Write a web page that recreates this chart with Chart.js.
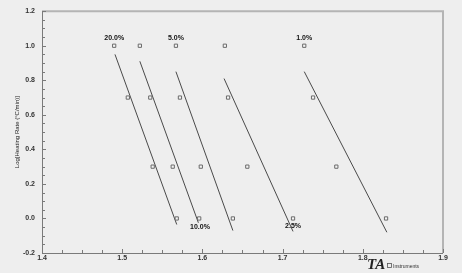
<!DOCTYPE html>
<html><head><meta charset="utf-8">
<script src="https://cdn.jsdelivr.net/npm/chart.js@4"></script>
<style>html,body{margin:0;padding:0;background:#eeeeee;}#c{display:block;}</style>
</head><body>
<canvas id="c" width="462" height="273"></canvas>
<script>
// Heating rate levels (log scale y values)
const yLevels = [1.0, 0.7, 0.3, 0.0];
// Conversion series: x values at each y level
const seriesNames = ['20.0%', '10.0%', '5.0%', '2.5%', '1.0%'];
const x20 = [1.490, 1.507, 1.538, 1.568];
const x10 = [1.522, 1.535, 1.563, 1.596];
const x5  = [1.567, 1.572, 1.598, 1.638];
const x25 = [1.628, 1.632, 1.656, 1.713];
const x1  = [1.727, 1.738, 1.767, 1.829];
const seriesX = [x20, x10, x5, x25, x1];
// Fitted lines: [xTop, yTop, xBottom, yBottom]
const fit20 = [1.491, 0.95, 1.568, -0.035];
const fit10 = [1.522, 0.91, 1.595, -0.025];
const fit5  = [1.567, 0.85, 1.638, -0.07];
const fit25 = [1.627, 0.81, 1.713, -0.075];
const fit1  = [1.727, 0.85, 1.830, -0.08];
const fits = [fit20, fit10, fit5, fit25, fit1];
// Series labels: text, x, y in data units
const labelText = ['20.0%', '10.0%', '5.0%', '2.5%', '1.0%'];
const labelX = [1.490, 1.597, 1.567, 1.713, 1.727];
const labelY = [1.045, -0.052, 1.045, -0.042, 1.045];
// Axis ticks
const xMin = 1.4, xMax = 1.9, xStep = 0.1, xMinor = 0.025;
const yMin = -0.2, yMax = 1.2, yStep = 0.2, yMinor = 0.05;
const yTitle = 'Log[Heating Rate (°C/min)]';

const datasets = [];
seriesX.forEach((xs, i) => {
  datasets.push({
    type: 'scatter', label: seriesNames[i],
    data: xs.map((x, j) => ({x: x, y: yLevels[j]})),
    pointStyle: 'rect', pointRadius: 2.3, pointBorderWidth: 1,
    pointBackgroundColor: '#f4f4f4', pointBorderColor: '#6a6a6a', showLine: false
  });
});
fits.forEach((f, i) => {
  datasets.push({
    type: 'line', label: 'fit ' + seriesNames[i],
    data: [{x: f[0], y: f[1]}, {x: f[2], y: f[3]}],
    borderColor: '#4a4a4a', borderWidth: 1, pointRadius: 0, fill: false, tension: 0
  });
});

const fmt = v => (Math.abs(v) < 1e-9 ? 0 : v).toFixed(1);

const decor = {
  id: 'decor',
  beforeDraw(chart) {
    const c = chart.ctx;
    c.save(); c.fillStyle = '#eeeeee'; c.fillRect(0, 0, chart.width, chart.height); c.restore();
  },
  afterDraw(chart) {
    const c = chart.ctx, a = chart.chartArea, xs = chart.scales.x, ys = chart.scales.y;
    c.save();
    c.strokeStyle = '#b4b4b4'; c.lineWidth = 2;
    c.beginPath(); c.moveTo(a.left, a.top); c.lineTo(a.right, a.top); c.lineTo(a.right, a.bottom); c.stroke();
    c.strokeStyle = '#7a7a7a'; c.lineWidth = 1;
    c.beginPath(); c.moveTo(a.left + 0.5, a.top); c.lineTo(a.left + 0.5, a.bottom + 0.5); c.lineTo(a.right, a.bottom + 0.5); c.stroke();
    c.beginPath();
    for (let v = xMin; v <= xMax + 1e-9; v += xMinor) {
      const p = Math.round(xs.getPixelForValue(v)) + 0.5;
      const major = Math.abs(v / xStep - Math.round(v / xStep)) < 1e-6;
      c.moveTo(p, a.bottom); c.lineTo(p, a.bottom - (major ? 4 : 3));
    }
    for (let v = yMin; v <= yMax + 1e-9; v += yMinor) {
      const p = Math.round(ys.getPixelForValue(v)) + 0.5;
      const major = Math.abs(v / yStep - Math.round(v / yStep)) < 1e-6;
      c.moveTo(a.left, p); c.lineTo(a.left + (major ? 4 : 3), p);
    }
    c.stroke();
    c.fillStyle = '#111'; c.font = 'bold 7px "Liberation Sans", Arial, sans-serif';
    c.textAlign = 'center'; c.textBaseline = 'middle';
    labelText.forEach((t, i) => c.fillText(t, xs.getPixelForValue(labelX[i]), ys.getPixelForValue(labelY[i])));
    c.save();
    c.translate(17, (a.top + a.bottom) / 2); c.rotate(-Math.PI / 2);
    c.font = '6px "Liberation Sans", Arial, sans-serif'; c.fillStyle = '#222';
    c.fillText(yTitle, 0, 0);
    c.restore();
    c.font = 'bold italic 15px "Liberation Serif", serif'; c.fillStyle = '#222'; c.textAlign = 'left'; c.textBaseline = 'alphabetic';
    c.fillText('TA', 367, 269);
    c.strokeStyle = '#555'; c.lineWidth = 0.8; c.strokeRect(387.5, 263.5, 4, 4);
    c.font = '5px "Liberation Sans", Arial, sans-serif'; c.fillStyle = '#333';
    c.fillText('Instruments', 393, 268);
    c.restore();
  }
};

new Chart(document.getElementById('c'), {
  data: { datasets: datasets },
  plugins: [decor],
  options: {
    responsive: false, animation: false, devicePixelRatio: 1,
    layout: { padding: { left: 0, top: 6, right: 19, bottom: 0 } },
    plugins: { legend: { display: false }, tooltip: { enabled: false } },
    scales: {
      x: {
        type: 'linear', min: xMin, max: xMax,
        afterFit(s) { s.height = 20; },
        grid: { display: false, drawTicks: false, tickLength: 0 }, border: { display: false },
        ticks: { stepSize: xStep, padding: 1, color: '#333', font: { size: 7, weight: 'bold', family: '"Liberation Sans", Arial, sans-serif' },
          callback: fmt, maxRotation: 0 }
      },
      y: {
        type: 'linear', min: yMin, max: yMax,
        afterFit(s) { s.width = 42; },
        grid: { display: false, drawTicks: false, tickLength: 0 }, border: { display: false },
        ticks: { stepSize: yStep, padding: 7, color: '#333', font: { size: 7, weight: 'bold', family: '"Liberation Sans", Arial, sans-serif' },
          callback: fmt }
      }
    }
  }
});
</script>
</body></html>
